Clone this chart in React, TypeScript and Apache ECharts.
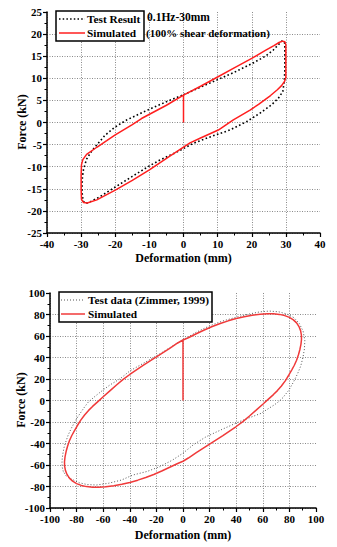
import React, { useEffect, useRef } from "react";
import * as echarts from "echarts";

// ---- Top chart (0.1Hz-30mm) ----
const topXTicks = [-40, -30, -20, -10, 0, 10, 20, 30, 40];
const topYTicks = [-25, -20, -15, -10, -5, 0, 5, 10, 15, 20, 25];
const topTestResult: [number, number][] = [
  [0, 6.3], [5, 8.0], [10, 9.7], [15, 11.4], [20, 13.3], [24, 15.0], [26.3, 16.4], [27.8, 17.6],
  [28.8, 18.4], [29.4, 18.4], [29.7, 17.8], [29.7, 15], [29.7, 12], [29.6, 10.2], [29.5, 9.2],
  [29.1, 7.0], [27.8, 5.5], [25.8, 4.0], [22.4, 2.1], [18.5, 0.2], [13.6, -1.7], [8, -3.2],
  [2.9, -4.7], [-2, -6.7], [-6.9, -8.5], [-10, -9.8], [-15, -12.2], [-20, -14.6], [-24.5, -16.8],
  [-27.5, -18.0], [-28.6, -18.3], [-29.4, -17.8], [-29.7, -16], [-29.7, -14], [-29.6, -12.2],
  [-29.3, -10.6], [-28.4, -8.3], [-27.2, -6.8], [-25.9, -5.5], [-23, -2.9], [-20, -1.0],
  [-16.6, 0.6], [-10, 3.0], [-5, 4.7], [0, 6.3],
];
const topSimulated: [number, number][] = [
  [0, 0], [0, 6.2], [5, 8.2], [10, 10.3], [15, 12.4], [20, 14.5], [24, 16.3], [26.5, 17.4],
  [28, 18.1], [29, 18.4], [29.7, 18.3], [30, 17.6], [30, 15], [30, 12], [30, 10.2], [29.6, 9.3],
  [28.8, 8.4], [27.5, 7.4], [25.5, 6.1], [22, 4.1], [19.5, 2.8], [14.6, 0.6], [10.2, -1.7],
  [5, -3.5], [1.9, -4.6], [-4, -7.6], [-10, -10.7], [-15, -13.1], [-20, -15.3], [-25.4, -17.5],
  [-28.2, -18.2], [-29.3, -18.1], [-29.9, -17.4], [-30, -15], [-30, -12], [-29.9, -9.6],
  [-29.5, -8.4], [-28.4, -7.2], [-25.4, -5.6], [-22.5, -4.1], [-20, -2.8], [-15, -0.5],
  [-12.3, 0.9], [-5, 3.9], [0, 6.2],
];

// ---- Bottom chart (Zimmer, 1999) ----
const botXTicks = [-100, -80, -60, -40, -20, 0, 20, 40, 60, 80, 100];
const botYTicks = [-100, -80, -60, -40, -20, 0, 20, 40, 60, 80, 100];
const botTestData: [number, number][] = [
  [-90, -66], [-90.8, -62], [-91, -58], [-90.8, -54], [-90.4, -50], [-89.5, -44], [-88, -38],
  [-86.3, -32], [-84, -26], [-81.3, -19.7], [-79, -15], [-76.5, -10.5], [-74, -6], [-71.3, -1.6],
  [-67, 3], [-63, 7], [-59, 10.8], [-55, 14.4], [-47, 20.5], [-40, 27.5], [-30, 34.5],
  [-20, 41.5], [-10, 49], [0, 56.5], [10, 63.5], [20, 69.5], [30, 74], [40, 77.5], [50, 80.5],
  [58, 82.5], [65, 83.2], [72, 82.5], [78, 80.5], [83.5, 77], [87.5, 71.5], [90.3, 64.5],
  [91.6, 56], [91.3, 48], [90.2, 40], [88.5, 32], [86, 24.5], [83, 17], [79.5, 9.5], [75, 2.5],
  [72, -1], [68.5, -4.2], [63, -8.5], [58.6, -12], [50, -16], [42.3, -19.7], [30, -26.5],
  [17.4, -33.7], [8, -41], [0, -49], [-8, -55.5], [-17.6, -61.6], [-27, -66], [-37.6, -69.3],
  [-46.3, -74], [-56, -77], [-65, -78.6], [-72, -78.2], [-78, -76.5], [-84, -73], [-88, -70],
  [-90, -66],
];
const botSimulated: [number, number][] = [
  [0, 0], [0, 56.3], [4, 58.4], [10, 62.1], [16, 65.6], [22, 68.8], [28, 71.6], [34, 74.1],
  [40, 76.2], [46, 77.9], [52, 79.3], [58, 80.3], [63.5, 80.7], [68, 80.6], [72.5, 80.1],
  [76.5, 79], [80, 77.3], [83, 75], [85.4, 72.2], [87.2, 68.8], [88.4, 65], [89, 61], [89.1, 57],
  [88.7, 52.5], [87.9, 47.5], [86.8, 42.5], [85.4, 37.5], [83.7, 32.8], [81.8, 28.5],
  [79.5, 23.5], [77, 18.5], [74, 13.5], [71, 9.2], [68, 5.5], [64, 1], [60, -3.5], [55, -9],
  [50, -14.4], [45, -19.6], [40, -24.2], [30, -32.6], [20, -40.6], [10, -48.6], [4, -53.5],
  [0, -56.5], [-4, -58.6], [-10, -62.1], [-16, -65.6], [-22, -68.8], [-28, -71.6], [-34, -74.1],
  [-40, -76.2], [-46, -77.9], [-52, -79.3], [-58, -80.3], [-63.5, -80.7], [-68, -80.6],
  [-72.5, -80.1], [-76.5, -79], [-80, -77.3], [-83, -75], [-85.4, -72.2], [-87.2, -68.8],
  [-88.4, -65], [-89, -61], [-89.1, -57], [-88.7, -52.5], [-87.9, -47.5], [-86.8, -42.5],
  [-85.4, -37.5], [-83.7, -32.8], [-81.8, -28.5], [-79.5, -23.5], [-77, -18.5], [-74, -13.5],
  [-71, -9.2], [-68, -5.5], [-64, -1], [-60, 3.5], [-55, 9], [-50, 14.4], [-45, 19.6],
  [-40, 24.2], [-30, 32.6], [-20, 40.6], [-10, 48.6], [-4, 53.5], [0, 56.3],
];

const topLegend = ["Test Result", "Simulated"];
const botLegend = ["Test data (Zimmer, 1999)", "Simulated"];
const topNote = ["0.1Hz-30mm", "(100% shear deformation)"];
const xName = "Deformation (mm)";
const yName = "Force (kN)";

const FONT = "Liberation Serif";

function axisCommon(min: number, max: number, interval: number, gridIndex: number) {
  return {
    gridIndex,
    type: "value",
    min,
    max,
    interval,
    axisLine: { show: true, onZero: false, lineStyle: { color: "#000", width: 1.5 } },
    axisTick: { show: true, inside: false, length: 4, lineStyle: { color: "#000", width: 1.2 } },
    minorTick: { show: true, splitNumber: 2, length: 2.5, lineStyle: { color: "#000", width: 1 } },
    splitLine: {
      show: true,
      showMaxLine: false,
      lineStyle: { color: "#8a8a8a", type: [1, 1.5], width: 1 },
    },
    axisLabel: {
      fontFamily: FONT,
      fontWeight: "bold",
      fontSize: 11,
      color: "#000",
      margin: 5,
    },
  };
}

export default function App() {
  const ref = useRef<HTMLDivElement>(null);
  useEffect(() => {
    if (!ref.current) return;
    const chart = echarts.init(ref.current, null, { renderer: "svg" });
    const txt = (text: string, x: number, y: number, size: number, align = "left", rotation = 0) => ({
      type: "text",
      z: 101,
      x,
      y,
      rotation,
      style: {
        text,
        fill: "#000",
        font: `bold ${size}px "${FONT}"`,
        verticalAlign: "middle",
        align,
      },
    });
    const seg = (x1: number, y1: number, x2: number, y2: number, stroke: string, width: number, dash?: number[]) => ({
      type: "line",
      z: 101,
      shape: { x1, y1, x2, y2 },
      style: { stroke, lineWidth: width, ...(dash ? { lineDash: dash } : {}) },
    });
    const option: any = {
      animation: false,
      backgroundColor: "#fff",
      grid: [
        { left: 47, top: 12, width: 273, height: 221, containLabel: false },
        { left: 50, top: 293, width: 266, height: 215, containLabel: false },
      ],
      xAxis: [
        axisCommon(topXTicks[0], topXTicks[topXTicks.length - 1], 10, 0),
        axisCommon(botXTicks[0], botXTicks[botXTicks.length - 1], 20, 1),
      ],
      yAxis: [
        axisCommon(topYTicks[0], topYTicks[topYTicks.length - 1], 5, 0),
        axisCommon(botYTicks[0], botYTicks[botYTicks.length - 1], 20, 1),
      ],
      series: [
        {
          name: topLegend[0],
          type: "line",
          xAxisIndex: 0,
          yAxisIndex: 0,
          data: topTestResult,
          showSymbol: false,
          z: 3,
          lineStyle: { color: "#000", width: 1.6, type: [1.6, 2.4] },
        },
        {
          name: topLegend[1],
          type: "line",
          xAxisIndex: 0,
          yAxisIndex: 0,
          data: topSimulated,
          showSymbol: false,
          z: 4,
          lineStyle: { color: "#ff1f1f", width: 1.5 },
        },
        {
          name: botLegend[0],
          type: "line",
          xAxisIndex: 1,
          yAxisIndex: 1,
          data: botTestData,
          showSymbol: false,
          z: 3,
          lineStyle: { color: "#555", width: 1, type: [1, 2] },
        },
        {
          name: botLegend[1],
          type: "line",
          xAxisIndex: 1,
          yAxisIndex: 1,
          data: botSimulated,
          showSymbol: false,
          z: 4,
          lineStyle: { color: "#f03a3a", width: 1.5 },
        },
      ],
      graphic: [
        txt(xName, 183.5, 258, 12, "center"),
        txt(yName, 22, 122, 12, "center", Math.PI / 2),
        txt(xName, 183, 535, 12, "center"),
        txt(yName, 21, 400, 12, "center", Math.PI / 2),
        { type: "rect", z: 100, shape: { x: 56, y: 11, width: 88, height: 30 }, style: { fill: "#fff", stroke: "#000", lineWidth: 1.5 } },
        seg(59, 19, 85, 19, "#000", 1.5, [1.5, 2.2]),
        txt(topLegend[0], 87, 19, 11.3),
        seg(59, 33, 85, 33, "#ff1f1f", 1.5),
        txt(topLegend[1], 87, 33, 11.3),
        txt(topNote[0], 147, 17, 11.5),
        txt(topNote[1], 146, 33, 11),
        { type: "rect", z: 100, shape: { x: 59, y: 292, width: 153, height: 30 }, style: { fill: "#fff", stroke: "#000", lineWidth: 1.5 } },
        seg(61, 300, 85, 300, "#555", 1, [1, 2]),
        txt(botLegend[0], 88, 300, 11.3),
        seg(61, 314, 85, 314, "#f03a3a", 1.5),
        txt(botLegend[1], 88, 314, 11.3),
      ],
    };
    chart.setOption(option);
    return () => chart.dispose();
  }, []);
  return (
    <div
      ref={ref}
      style={{ position: "absolute", left: 0, top: 0, width: 337, height: 547, background: "#fff" }}
    />
  );
}
